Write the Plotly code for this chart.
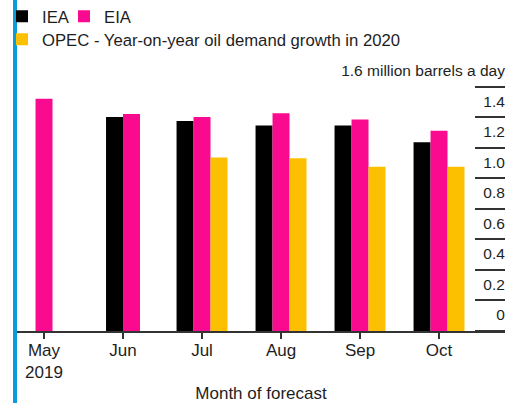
import plotly.graph_objects as go

months = ["May<br>2019", "Jun", "Jul", "Aug", "Sep", "Oct"]
iea = [None, 1.40, 1.375, 1.345, 1.345, 1.235]
eia = [1.52, 1.42, 1.40, 1.425, 1.385, 1.31]
opec = [None, None, 1.135, 1.13, 1.075, 1.075]
series_names = ["IEA", "EIA", "OPEC - Year-on-year oil demand growth in 2020"]
series_vals = [iea, eia, opec]
colors = ["#000000", "#fa0a8e", "#fcc000"]
ytick_vals = [0, 0.2, 0.4, 0.6, 0.8, 1.0, 1.2, 1.4, 1.6]
ytick_text = ["0", "0.2", "0.4", "0.6", "0.8", "1.0", "1.2", "1.4", "1.6 million barrels a day"]

W = 515
H = 403
YMAX = 1.8
BASE = 331          # pixel row of y=0
PX_PER_UNIT = 152.7
L, R, B = 17, 10, H - BASE
T = BASE - YMAX * PX_PER_UNIT
pw = W - L - R
ph = H - T - B

bw = 0.215
# centre the present bars of each month on the month's tick
offsets = [[None] * len(months) for _ in series_vals]
for j in range(len(months)):
    present = [k for k, s in enumerate(series_vals) if s[j] is not None]
    n = len(present)
    for i, k in enumerate(present):
        offsets[k][j] = -n * bw / 2 + i * bw

font = "Liberation Sans, Arial, Helvetica, sans-serif"
txt = "#1e1e1e"

legend_ids = ["legend", "legend3", "legend2"]

fig = go.Figure()
for k, (name, vals) in enumerate(zip(series_names, series_vals)):
    fig.add_trace(go.Bar(
        x=months, y=vals, name=name,
        marker=dict(color=colors[k], line=dict(width=0)),
        width=bw, offset=[o if o is not None else 0 for o in offsets[k]],
        legend=legend_ids[k], showlegend=True,
        hoverinfo="skip",
    ))

def px_x(p):
    return (p - L) / pw

def px_y(p):
    return (H - B - p) / ph

def leg(xpx, ypx):
    return dict(orientation="h", x=px_x(xpx), xanchor="left", y=px_y(ypx), yanchor="middle",
                font=dict(size=16.7, color=txt), bgcolor="rgba(0,0,0,0)")

fig.update_layout(
    width=W, height=H,
    margin=dict(l=L, r=R, t=T, b=B, autoexpand=False),
    paper_bgcolor="white", plot_bgcolor="white",
    barmode="overlay",
    showlegend=True,
    font=dict(family=font, size=16, color=txt),
    legend=leg(2, 16.5),
    legend3=leg(64, 16.5),
    legend2=leg(2, 39.5),
    xaxis=dict(
        type="category", range=[-0.342, 5.835], automargin=False,
        showgrid=False, zeroline=False,
        showline=True, linecolor="#333333", linewidth=1.5,
        ticks="outside", ticklen=6, tickcolor="#333333", tickwidth=1.5,
        ticklabelstandoff=-3,
        tickfont=dict(size=17, color=txt),
        title=dict(text="Month of forecast", font=dict(size=17, color=txt), standoff=8),
    ),
    yaxis=dict(
        range=[0, YMAX], side="left", anchor="free", position=1.0, automargin=False,
        showgrid=False, zeroline=False, showline=False,
        tickvals=ytick_vals, ticktext=ytick_text,
        ticks="outside", ticklen=30, tickcolor="#333333", tickwidth=1.5,
        ticklabelposition="outside", ticklabelstandoff=-33, ticklabelshift=-16,
        tickfont=dict(size=15.5, color=txt),
    ),
    shapes=[dict(type="rect", xref="paper", yref="paper",
                 x0=px_x(13), x1=px_x(17), y0=px_y(H), y1=px_y(0),
                 fillcolor="#0a9ae0", line=dict(width=0), layer="above")],
)

fig.write_html("out.html")
